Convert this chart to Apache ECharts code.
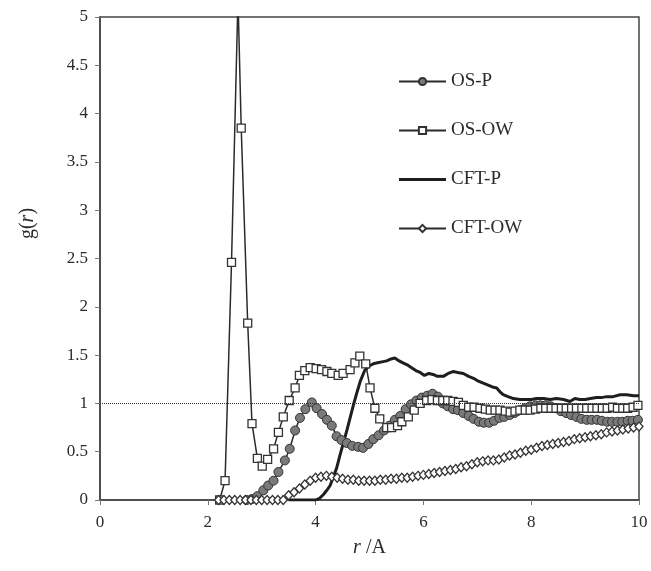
<!DOCTYPE html>
<html>
<head>
    <meta charset="utf-8">
    <title>g(r)</title>
    <script src="https://cdn.jsdelivr.net/npm/echarts@6/dist/echarts.min.js"></script>
</head>
<body style="margin:0;background:#fff;">
<div id="main" style="width:651px;height:571px;"></div>
<script type="text/javascript">
    // radial distribution data
    var osPR = [2.72, 2.82, 2.92, 3.03, 3.12, 3.22, 3.31, 3.43, 3.52, 3.62, 3.71, 3.81, 3.93, 4.02, 4.12, 4.21, 4.30, 4.39, 4.48, 4.58,
        4.68, 4.79, 4.88, 4.98, 5.07, 5.17, 5.27, 5.37, 5.47, 5.57, 5.67, 5.77, 5.87, 5.97, 6.07, 6.17, 6.27, 6.36, 6.45, 6.55,
        6.64, 6.74, 6.84, 6.93, 7.03, 7.12, 7.22, 7.31, 7.41, 7.50, 7.60, 7.69, 7.79, 7.88, 7.98, 8.08, 8.17, 8.27, 8.36, 8.46,
        8.55, 8.65, 8.74, 8.84, 8.93, 9.03, 9.12, 9.22, 9.31, 9.41, 9.50, 9.60, 9.69, 9.79, 9.88, 9.98];
    var osPG = [0.00, 0.01, 0.04, 0.10, 0.15, 0.20, 0.29, 0.41, 0.53, 0.72, 0.85, 0.94, 1.01, 0.95, 0.89, 0.83, 0.77, 0.66, 0.62, 0.59,
        0.56, 0.55, 0.54, 0.58, 0.63, 0.67, 0.72, 0.77, 0.83, 0.87, 0.94, 0.99, 1.03, 1.06, 1.08, 1.10, 1.07, 1.00, 0.97, 0.94,
        0.93, 0.90, 0.87, 0.84, 0.81, 0.80, 0.80, 0.82, 0.85, 0.86, 0.88, 0.90, 0.93, 0.95, 0.97, 0.98, 0.98, 0.98, 0.97, 0.95,
        0.92, 0.90, 0.88, 0.86, 0.84, 0.83, 0.83, 0.83, 0.82, 0.81, 0.81, 0.81, 0.81, 0.82, 0.82, 0.83];

    var osOwR = [2.22, 2.32, 2.44, 2.56, 2.62, 2.74, 2.82, 2.92, 3.01, 3.11, 3.22, 3.31, 3.40, 3.51, 3.62, 3.70, 3.80, 3.90, 4.01, 4.11,
        4.21, 4.30, 4.42, 4.51, 4.64, 4.73, 4.82, 4.93, 5.01, 5.10, 5.19, 5.32, 5.41, 5.52, 5.60, 5.72, 5.83, 5.94, 6.06, 6.16,
        6.26, 6.36, 6.45, 6.55, 6.65, 6.74, 6.84, 6.94, 7.05, 7.15, 7.24, 7.33, 7.42, 7.52, 7.61, 7.70, 7.79, 7.89, 7.98, 8.08,
        8.18, 8.27, 8.37, 8.46, 8.56, 8.65, 8.75, 8.84, 8.94, 9.03, 9.13, 9.22, 9.32, 9.41, 9.51, 9.60, 9.70, 9.79, 9.89, 9.98];
    var osOwG = [0.00, 0.20, 2.46, 5.20, 3.85, 1.83, 0.79, 0.43, 0.35, 0.42, 0.53, 0.70, 0.86, 1.03, 1.16, 1.29, 1.34, 1.37, 1.36, 1.35,
        1.33, 1.31, 1.29, 1.31, 1.35, 1.42, 1.49, 1.41, 1.16, 0.95, 0.84, 0.75, 0.75, 0.77, 0.81, 0.86, 0.93, 1.00, 1.03, 1.04,
        1.03, 1.03, 1.03, 1.02, 1.01, 0.98, 0.96, 0.96, 0.95, 0.94, 0.93, 0.93, 0.93, 0.92, 0.91, 0.92, 0.93, 0.93, 0.93, 0.94,
        0.95, 0.95, 0.95, 0.95, 0.95, 0.95, 0.95, 0.95, 0.95, 0.95, 0.95, 0.95, 0.95, 0.95, 0.96, 0.95, 0.95, 0.95, 0.96, 0.98];

    var cftPR = [3.50, 3.80, 4.00, 4.08, 4.15, 4.22, 4.27, 4.33, 4.39, 4.45, 4.51, 4.58, 4.64, 4.70, 4.76, 4.83, 4.91, 5.00, 5.07, 5.15,
        5.23, 5.32, 5.40, 5.47, 5.55, 5.62, 5.70, 5.78, 5.86, 5.94, 6.02, 6.10, 6.18, 6.26, 6.37, 6.46, 6.55, 6.64, 6.74, 6.84,
        6.93, 7.02, 7.11, 7.20, 7.28, 7.36, 7.42, 7.48, 7.57, 7.67, 7.79, 7.91, 8.00, 8.10, 8.23, 8.35, 8.47, 8.60, 8.72, 8.81,
        8.90, 9.00, 9.10, 9.21, 9.30, 9.40, 9.52, 9.65, 9.77, 9.90, 10.00];
    var cftPG = [0.00, 0.00, 0.00, 0.02, 0.06, 0.11, 0.15, 0.24, 0.33, 0.46, 0.58, 0.72, 0.85, 0.98, 1.10, 1.23, 1.34, 1.39, 1.41, 1.42,
        1.43, 1.44, 1.46, 1.47, 1.44, 1.42, 1.40, 1.37, 1.34, 1.32, 1.29, 1.31, 1.30, 1.28, 1.28, 1.31, 1.33, 1.32, 1.31, 1.28,
        1.26, 1.23, 1.21, 1.19, 1.17, 1.16, 1.12, 1.09, 1.07, 1.05, 1.04, 1.04, 1.04, 1.05, 1.05, 1.04, 1.05, 1.04, 1.02, 1.05,
        1.04, 1.04, 1.05, 1.06, 1.06, 1.07, 1.07, 1.09, 1.09, 1.08, 1.08];

    var cftOwR = [2.2, 2.3, 2.4, 2.5, 2.6, 2.7, 2.8, 2.9, 3.0, 3.1, 3.2, 3.3, 3.4, 3.5, 3.6, 3.7, 3.8, 3.9, 4.0, 4.1,
        4.2, 4.3, 4.4, 4.5, 4.6, 4.7, 4.8, 4.9, 5.0, 5.1, 5.2, 5.3, 5.4, 5.5, 5.6, 5.7, 5.8, 5.9, 6.0, 6.1,
        6.2, 6.3, 6.4, 6.5, 6.6, 6.7, 6.8, 6.9, 7.0, 7.1, 7.2, 7.3, 7.4, 7.5, 7.6, 7.7, 7.8, 7.9, 8.0, 8.1,
        8.2, 8.3, 8.4, 8.5, 8.6, 8.7, 8.8, 8.9, 9.0, 9.1, 9.2, 9.3, 9.4, 9.5, 9.6, 9.7, 9.8, 9.9, 10.0];
    var cftOwG = [0, 0, 0, 0, 0, 0, 0, 0, 0, 0, 0, 0, 0, 0.05, 0.08, 0.12, 0.16, 0.20, 0.23, 0.24,
        0.25, 0.24, 0.23, 0.22, 0.21, 0.21, 0.20, 0.20, 0.20, 0.20, 0.21, 0.21, 0.22, 0.22, 0.23, 0.23, 0.24, 0.25, 0.26, 0.27,
        0.28, 0.29, 0.30, 0.31, 0.32, 0.34, 0.35, 0.37, 0.39, 0.40, 0.41, 0.41, 0.42, 0.44, 0.46, 0.47, 0.49, 0.51, 0.52, 0.54,
        0.56, 0.57, 0.58, 0.59, 0.60, 0.61, 0.63, 0.64, 0.65, 0.66, 0.67, 0.68, 0.70, 0.71, 0.72, 0.73, 0.74, 0.75, 0.76];

    var yMax = 5;
    var ink = '#2b2b2b';
    var font = '"Liberation Serif", "DejaVu Serif", serif';

    function pairs(r, g) {
        return r.map(function (x, i) {
            // points above the axis top are drawn by the line only
            if (g[i] > yMax) return { value: [x, g[i]], symbol: 'none' };
            return [x, g[i]];
        });
    }

    var myChart = echarts.init(document.getElementById('main'));
    myChart.setOption({
        animation: false,
        backgroundColor: '#fff',
        textStyle: { fontFamily: font, color: ink },
        grid: {
            left: 100, right: 12, top: 17, bottom: 71,
            show: true, borderColor: '#444', borderWidth: 1.5
        },
        legend: {
            orient: 'vertical',
            left: 393, top: 67,
            itemWidth: 47, itemHeight: 9, itemGap: 30,
            textStyle: { fontFamily: font, fontSize: 19, color: ink },
            data: [
                { name: 'OS-P' },
                { name: 'OS-OW' },
                { name: 'CFT-P', icon: 'path://M0,0 L47,0 L47,3 L0,3 Z', itemStyle: { color: '#1e1e1e' } },
                { name: 'CFT-OW' }
            ]
        },
        xAxis: {
            type: 'value', min: 0, max: 10, interval: 2,
            name: '{i|r} /A', nameLocation: 'middle', nameGap: 38,
            nameTextStyle: {
                fontFamily: font, fontSize: 20, color: ink,
                rich: { i: { fontFamily: font, fontSize: 20, fontStyle: 'italic', color: ink } }
            },
            axisLine: { lineStyle: { color: '#444', width: 1.5 } },
            axisTick: { show: true, inside: false, length: 5, lineStyle: { color: '#777' } },
            axisLabel: { fontFamily: font, fontSize: 17, color: ink, margin: 14 },
            splitLine: { show: false }
        },
        yAxis: {
            type: 'value', min: 0, max: yMax, interval: 0.5,
            name: 'g({i|r})', nameLocation: 'middle', nameGap: 62, nameRotate: 90,
            nameTextStyle: {
                fontFamily: font, fontSize: 20, color: ink, padding: [0, 0, 0, 70],
                rich: { i: { fontFamily: font, fontSize: 20, fontStyle: 'italic', color: ink } }
            },
            axisLine: { lineStyle: { color: '#444', width: 1.5 } },
            axisTick: { show: true, inside: false, length: 5, lineStyle: { color: '#777' } },
            axisLabel: { fontFamily: font, fontSize: 17, color: ink, margin: 12 },
            splitLine: { show: false }
        },
        series: [
            {
                name: 'OS-P', type: 'line', data: pairs(osPR, osPG),
                symbol: 'circle', symbolSize: 9,
                itemStyle: { color: '#7a7a7a', borderColor: '#333', borderWidth: 1 },
                lineStyle: { color: ink, width: 1.5 },
                markLine: {
                    silent: true, symbol: 'none', label: { show: false },
                    lineStyle: { color: '#333', type: 'dotted', width: 1 },
                    data: [{ yAxis: 1 }]
                }
            },
            {
                name: 'OS-OW', type: 'line', data: pairs(osOwR, osOwG),
                symbol: 'rect', symbolSize: 8,
                itemStyle: { color: '#fff', borderColor: '#333', borderWidth: 1.3 },
                lineStyle: { color: ink, width: 1.5 }
            },
            {
                name: 'CFT-P', type: 'line', data: pairs(cftPR, cftPG),
                symbol: 'none', showSymbol: false,
                itemStyle: { color: '#1e1e1e' },
                lineStyle: { color: '#1e1e1e', width: 3 }
            },
            {
                name: 'CFT-OW', type: 'line', data: pairs(cftOwR, cftOwG),
                symbol: 'diamond', symbolSize: [8, 9],
                itemStyle: { color: '#fff', borderColor: '#333', borderWidth: 1.3 },
                lineStyle: { color: ink, width: 1.5 }
            }
        ]
    });
</script>
</body>
</html>
